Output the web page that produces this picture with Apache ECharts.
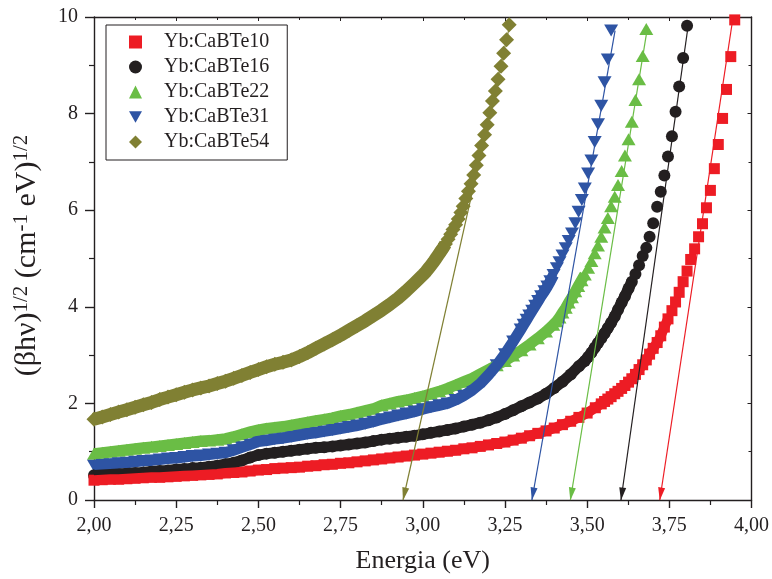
<!DOCTYPE html>
<html>
<head>
<meta charset="utf-8">
<script src="https://cdn.jsdelivr.net/npm/echarts@6/dist/echarts.min.js"></script>
<style>html,body{margin:0;padding:0;background:#fff}#c{width:772px;height:579px}</style>
</head>
<body>
<div id="c"></div>
<script>
const seriesNames = ['Yb:CaBTe10','Yb:CaBTe16','Yb:CaBTe22','Yb:CaBTe31','Yb:CaBTe54'];
const xTicks = [2.00,2.25,2.50,2.75,3.00,3.25,3.50,3.75,4.00];
const yTicks = [0,2,4,6,8,10];

const red = [[2.00,0.41],[2.025,0.42],[2.05,0.43],[2.075,0.43],[2.10,0.44],[2.125,0.45],[2.15,0.46],[2.175,0.47],[2.20,0.47],[2.225,0.48],[2.25,0.49],[2.275,0.50],[2.30,0.51],[2.325,0.52],[2.35,0.53],[2.375,0.54],[2.40,0.56],[2.425,0.57],[2.45,0.58],[2.475,0.60],[2.50,0.62],[2.525,0.63],[2.55,0.65],[2.575,0.66],[2.60,0.67],[2.625,0.68],[2.65,0.70],[2.675,0.71],[2.70,0.73],[2.725,0.74],[2.75,0.76],[2.775,0.77],[2.80,0.79],[2.825,0.81],[2.85,0.83],[2.875,0.85],[2.90,0.87],[2.925,0.89],[2.95,0.91],[2.975,0.93],[3.00,0.95],[3.025,0.97],[3.05,0.99],[3.075,1.01],[3.10,1.03],[3.125,1.06],[3.15,1.08],[3.175,1.11],[3.20,1.14],[3.225,1.17],[3.25,1.20],[3.275,1.24],[3.30,1.28],[3.325,1.33],[3.35,1.38],[3.375,1.43],[3.40,1.49],[3.425,1.56],[3.45,1.63],[3.475,1.71],[3.50,1.80],[3.525,1.91],[3.543,1.99],[3.553,2.04],[3.563,2.09],[3.573,2.14],[3.584,2.20],[3.594,2.25],[3.605,2.31],[3.615,2.37],[3.626,2.44],[3.636,2.51],[3.647,2.60],[3.658,2.70],[3.669,2.80],[3.680,2.90],[3.690,3.02],[3.701,3.14],[3.713,3.26],[3.724,3.40],[3.735,3.58],[3.746,3.75],[3.758,3.92],[3.769,4.10],[3.780,4.30],[3.792,4.52],[3.804,4.74],[3.815,4.98],[3.827,5.20],[3.839,5.45],[3.851,5.72],[3.863,6.05],[3.875,6.41],[3.887,6.86],[3.899,7.36],[3.912,7.90],[3.924,8.50],[3.937,9.18],[3.949,9.94]];

const black = [[2.00,0.51],[2.025,0.52],[2.05,0.53],[2.075,0.54],[2.10,0.55],[2.125,0.56],[2.15,0.57],[2.175,0.59],[2.20,0.60],[2.225,0.61],[2.25,0.63],[2.275,0.64],[2.30,0.66],[2.325,0.67],[2.35,0.69],[2.375,0.71],[2.40,0.74],[2.425,0.77],[2.45,0.82],[2.475,0.88],[2.50,0.93],[2.525,0.96],[2.55,0.98],[2.575,1.00],[2.60,1.02],[2.625,1.04],[2.65,1.06],[2.675,1.08],[2.70,1.09],[2.725,1.11],[2.75,1.13],[2.775,1.15],[2.80,1.17],[2.825,1.19],[2.85,1.22],[2.875,1.25],[2.90,1.27],[2.925,1.29],[2.95,1.31],[2.975,1.33],[3.00,1.36],[3.025,1.39],[3.05,1.42],[3.075,1.45],[3.10,1.48],[3.125,1.52],[3.15,1.56],[3.175,1.60],[3.20,1.65],[3.225,1.71],[3.25,1.78],[3.275,1.86],[3.30,1.94],[3.325,2.02],[3.35,2.10],[3.375,2.20],[3.40,2.32],[3.425,2.45],[3.45,2.60],[3.475,2.77],[3.493,2.88],[3.503,2.96],[3.513,3.05],[3.523,3.15],[3.533,3.25],[3.543,3.35],[3.553,3.45],[3.563,3.56],[3.573,3.67],[3.584,3.80],[3.594,3.94],[3.605,4.09],[3.615,4.22],[3.626,4.38],[3.636,4.52],[3.647,4.68],[3.658,4.86],[3.669,5.05],[3.680,5.22],[3.690,5.45],[3.701,5.73],[3.713,6.07],[3.724,6.38],[3.735,6.72],[3.746,7.11],[3.758,7.53],[3.769,8.04],[3.780,8.56],[3.792,9.15],[3.804,9.82]];

const green = [[2.00,0.96],[2.025,0.98],[2.05,1.00],[2.075,1.02],[2.10,1.04],[2.125,1.06],[2.15,1.08],[2.175,1.10],[2.20,1.12],[2.225,1.14],[2.25,1.16],[2.275,1.18],[2.30,1.20],[2.325,1.22],[2.35,1.23],[2.375,1.25],[2.40,1.27],[2.425,1.31],[2.45,1.36],[2.475,1.41],[2.50,1.45],[2.525,1.48],[2.55,1.50],[2.575,1.52],[2.60,1.55],[2.625,1.58],[2.65,1.61],[2.675,1.64],[2.70,1.67],[2.725,1.70],[2.75,1.74],[2.775,1.77],[2.80,1.81],[2.825,1.85],[2.85,1.89],[2.875,1.96],[2.90,2.00],[2.925,2.04],[2.95,2.07],[2.975,2.11],[3.00,2.15],[3.025,2.20],[3.05,2.25],[3.075,2.31],[3.10,2.38],[3.125,2.45],[3.15,2.52],[3.175,2.61],[3.20,2.70],[3.225,2.79],[3.25,2.88],[3.275,2.99],[3.30,3.10],[3.325,3.22],[3.35,3.35],[3.375,3.49],[3.397,3.63],[3.407,3.70],[3.416,3.78],[3.425,3.88],[3.435,3.98],[3.444,4.09],[3.454,4.20],[3.464,4.32],[3.473,4.43],[3.483,4.55],[3.493,4.67],[3.503,4.81],[3.513,4.95],[3.523,5.11],[3.533,5.27],[3.543,5.45],[3.553,5.64],[3.563,5.84],[3.573,6.08],[3.584,6.28],[3.594,6.52],[3.605,6.81],[3.615,7.13],[3.626,7.47],[3.636,7.83],[3.647,8.28],[3.658,8.71],[3.669,9.19],[3.680,9.75]];

const blue = [[2.00,0.71],[2.025,0.73],[2.05,0.74],[2.075,0.76],[2.10,0.77],[2.125,0.79],[2.15,0.81],[2.175,0.82],[2.20,0.84],[2.225,0.86],[2.25,0.87],[2.275,0.89],[2.30,0.91],[2.325,0.92],[2.35,0.94],[2.375,0.96],[2.40,0.98],[2.425,1.03],[2.45,1.09],[2.475,1.15],[2.50,1.21],[2.525,1.23],[2.55,1.26],[2.575,1.28],[2.60,1.31],[2.625,1.34],[2.65,1.37],[2.675,1.39],[2.70,1.42],[2.725,1.45],[2.75,1.48],[2.775,1.51],[2.80,1.54],[2.825,1.58],[2.85,1.62],[2.875,1.67],[2.90,1.71],[2.925,1.75],[2.95,1.79],[2.975,1.83],[3.00,1.88],[3.025,1.92],[3.05,1.96],[3.075,2.00],[3.10,2.07],[3.125,2.16],[3.15,2.27],[3.175,2.41],[3.20,2.59],[3.225,2.79],[3.25,3.02],[3.275,3.28],[3.298,3.53],[3.307,3.63],[3.316,3.73],[3.324,3.82],[3.333,3.92],[3.342,4.02],[3.351,4.12],[3.360,4.22],[3.370,4.32],[3.379,4.42],[3.388,4.53],[3.398,4.66],[3.408,4.80],[3.416,4.92],[3.425,5.06],[3.435,5.21],[3.444,5.36],[3.454,5.52],[3.464,5.73],[3.474,5.97],[3.484,6.21],[3.493,6.45],[3.503,6.76],[3.513,7.03],[3.523,7.41],[3.533,7.78],[3.543,8.16],[3.553,8.65],[3.563,9.12],[3.573,9.72]];

const olive = [[2.00,1.67],[2.025,1.72],[2.05,1.77],[2.075,1.82],[2.10,1.87],[2.125,1.92],[2.15,1.97],[2.175,2.02],[2.20,2.08],[2.225,2.13],[2.25,2.18],[2.275,2.23],[2.30,2.28],[2.325,2.32],[2.35,2.36],[2.375,2.41],[2.40,2.46],[2.425,2.52],[2.45,2.58],[2.475,2.64],[2.50,2.70],[2.525,2.76],[2.55,2.81],[2.575,2.85],[2.60,2.90],[2.625,2.97],[2.65,3.05],[2.675,3.14],[2.70,3.23],[2.725,3.32],[2.75,3.41],[2.775,3.51],[2.80,3.61],[2.825,3.71],[2.85,3.82],[2.875,3.93],[2.90,4.05],[2.925,4.18],[2.95,4.33],[2.975,4.49],[3.002,4.67],[3.010,4.73],[3.017,4.79],[3.024,4.85],[3.032,4.92],[3.039,4.99],[3.047,5.07],[3.054,5.14],[3.062,5.22],[3.069,5.30],[3.077,5.40],[3.085,5.50],[3.092,5.60],[3.100,5.70],[3.108,5.82],[3.116,5.95],[3.123,6.08],[3.131,6.24],[3.139,6.39],[3.147,6.55],[3.155,6.73],[3.163,6.93],[3.171,7.13],[3.179,7.34],[3.188,7.56],[3.196,7.77],[3.204,8.02],[3.212,8.26],[3.221,8.47],[3.229,8.71],[3.238,8.98],[3.246,9.25],[3.255,9.53],[3.263,9.84]];

// energy up to which each series' markers merge into a continuous band
const denseUntil = {red:3.75, black:3.64, green:3.50, blue:3.40, olive:3.07};

// linear fits: [top point, x-intercept point]
const fitRed = [[3.944,10],[3.721,0]];
const fitBlack = [[3.808,9.85],[3.603,0]];
const fitGreen = [[3.684,9.8],[3.449,0]];
const fitBlue = [[3.585,9.72],[3.332,0]];
const fitOlive = [[3.265,9.84],[2.940,0]];

const FONT = 'Liberation Serif';
const INK = '#231f20';
const colors = {red:'#ed1c24', black:'#231f20', green:'#6abd45', blue:'#2e54a4', olive:'#808033'};
const downTri = 'path://M0,0L10,0L5,9Z';

function fitLine(fit, color){
  return {
    silent:true, animation:false,
    symbol:['none','triangle'],
    lineStyle:{color:color, width:1.2, type:'solid'},
    label:{show:false},
    emphasis:{disabled:true},
    data:[[{coord:fit[0]},{coord:fit[1], symbolSize:[7,13], symbolOffset:[0,6]}]]
  };
}
function band(key, data, color, width){
  return {
    name:'band-'+key, type:'line', data:data.filter(p => p[0] <= denseUntil[key]),
    showSymbol:false, symbol:'none', silent:true, clip:true, smooth:false,
    lineStyle:{color:color, width:width, cap:'butt', join:'round'},
    emphasis:{disabled:true}
  };
}
function sc(name, data, color, symbol, size, fit){
  return {
    name:name, type:'scatter', data:data, symbol:symbol, symbolSize:size,
    itemStyle:{color:color, opacity:1}, clip:true, silent:true,
    emphasis:{disabled:true},
    markLine: fitLine(fit, color)
  };
}

const chart = echarts.init(document.getElementById('c'), null, {renderer:'canvas'});
const axisLine = {show:true, onZero:false, lineStyle:{color:INK, width:1.4}};
chart.setOption({
  animation:false,
  backgroundColor:'#fff',
  grid:{left:94, right:20, top:17, bottom:75},
  legend:{
    orient:'vertical', left:106, top:25,
    padding:[7,18,8,23], itemGap:5, itemWidth:13, itemHeight:13,
    borderColor:INK, borderWidth:1, backgroundColor:'#fff',
    textStyle:{fontFamily:FONT, fontSize:20, color:INK, padding:[0,0,0,17]},
    data:seriesNames
  },
  xAxis:[{
    type:'value', min:xTicks[0], max:xTicks[xTicks.length-1], interval:0.25, position:'bottom',
    axisLine:axisLine,
    axisTick:{show:true, inside:false, length:8, lineStyle:{color:INK, width:1.4}},
    minorTick:{show:true, splitNumber:2, length:5, lineStyle:{color:INK, width:1.2}},
    splitLine:{show:false},
    axisLabel:{fontFamily:FONT, fontSize:20, color:INK, margin:16, formatter:v=>v.toFixed(2).replace('.',',')},
    name:'Energia (eV)', nameLocation:'middle', nameGap:48,
    nameTextStyle:{fontFamily:FONT, fontSize:26, color:INK}
  },{
    type:'value', min:xTicks[0], max:xTicks[xTicks.length-1], interval:0.25, position:'top',
    axisLine:axisLine,
    axisTick:{show:true, inside:true, length:4, lineStyle:{color:INK, width:1}},
    minorTick:{show:true, splitNumber:2, length:3, lineStyle:{color:INK, width:1}},
    splitLine:{show:false}, axisLabel:{show:false}
  }],
  yAxis:[{
    type:'value', min:yTicks[0], max:yTicks[yTicks.length-1], interval:2, position:'left',
    axisLine:axisLine,
    axisTick:{show:true, inside:false, length:9, lineStyle:{color:INK, width:1.4}},
    minorTick:{show:true, splitNumber:2, length:5, lineStyle:{color:INK, width:1.2}},
    splitLine:{show:false},
    axisLabel:{fontFamily:FONT, fontSize:20, color:INK, margin:16},
    name:'{m|(βhν)}{s|1/2}{m| (cm}{s|-1}{m| eV)}{s|1/2}', nameLocation:'middle', nameGap:39,
    nameTextStyle:{fontFamily:FONT, color:INK, padding:[0,0,0,6],
      rich:{
        m:{fontFamily:FONT, fontSize:30, lineHeight:31, color:INK, verticalAlign:'bottom'},
        s:{fontFamily:FONT, fontSize:21, lineHeight:22, color:INK, verticalAlign:'top', padding:[0,0,15,0]}
      }}
  },{
    type:'value', min:yTicks[0], max:yTicks[yTicks.length-1], interval:2, position:'right',
    axisLine:axisLine,
    axisTick:{show:true, inside:true, length:4, lineStyle:{color:INK, width:1}},
    minorTick:{show:true, splitNumber:2, length:3, lineStyle:{color:INK, width:1}},
    splitLine:{show:false}, axisLabel:{show:false}
  }],
  series:[
    band('olive', olive, colors.olive, 13),
    sc(seriesNames[4], olive, colors.olive, 'diamond', 15, fitOlive),
    band('green', green, colors.green, 11),
    sc(seriesNames[2], green, colors.green, 'triangle', [14,12], fitGreen),
    band('blue', blue, colors.blue, 11),
    sc(seriesNames[3], blue, colors.blue, downTri, [14,12], fitBlue),
    band('black', black, colors.black, 11),
    sc(seriesNames[1], black, colors.black, 'circle', 12, fitBlack),
    band('red', red, colors.red, 10),
    sc(seriesNames[0], red, colors.red, 'rect', 11, fitRed)
  ]
});
</script>
</body>
</html>
